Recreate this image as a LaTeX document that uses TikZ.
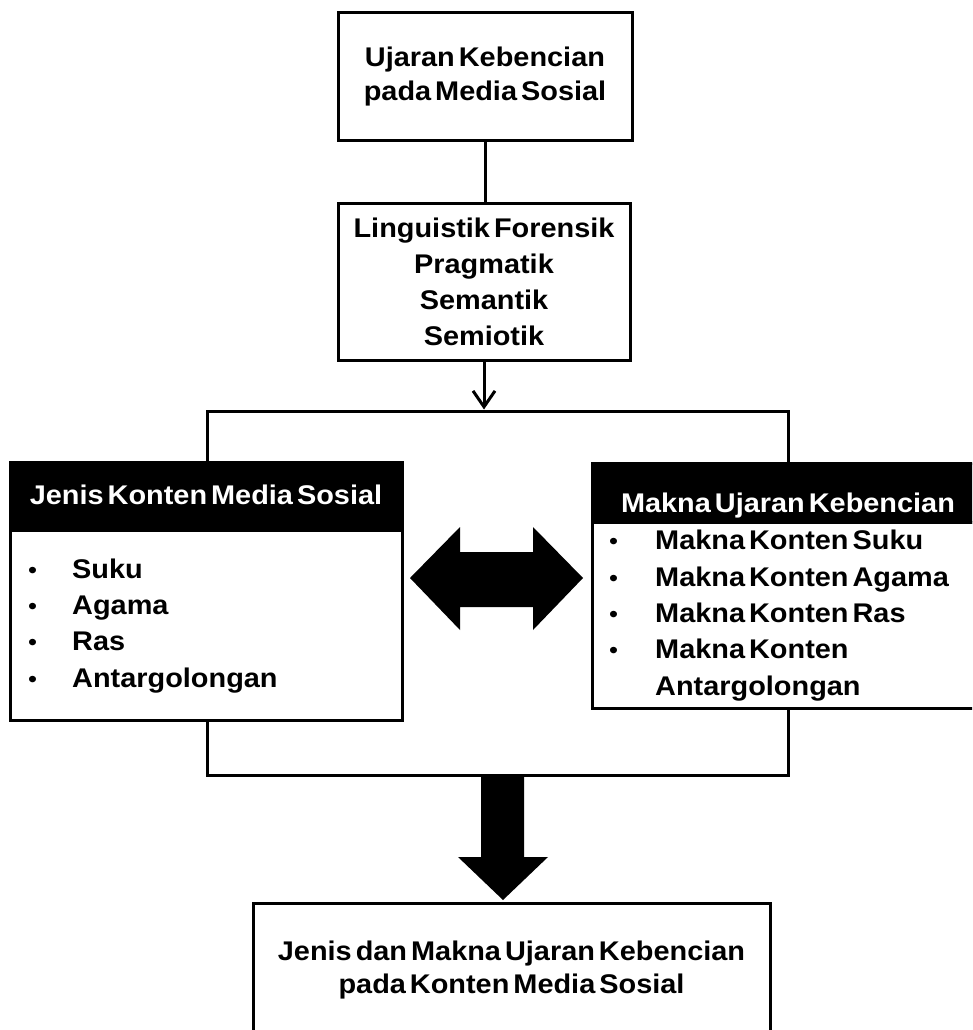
\documentclass[tikz,border=0pt]{standalone}
\usepackage{fontspec}
\setmainfont{Liberation Sans}[FakeStretch=1.07,WordSpace=0.5]
\usetikzlibrary{arrows.meta}
\newcommand{\blt}[1]{\makebox[#1][l]{\mdseries\fontsize{24}{24}\selectfont•}}
\begin{document}
\begin{tikzpicture}[x=1pt,y=-1pt,
  txt/.style={font=\bfseries\fontsize{27}{34}\selectfont},
  box/.style={draw,line width=3pt,fill=white,inner sep=0pt,align=center,txt},
  headbox/.style={draw,line width=3pt,fill=black,inner sep=0pt},
  headtxt/.style={txt,text=white,inner sep=0pt,anchor=base},
  items/.style={inner sep=0pt,anchor=base west,align=left,font=\bfseries\fontsize{27}{36.3}\selectfont},
  conn/.style={line width=3pt}]
\useasboundingbox (0,0) rectangle (972,1030);
\clip (0,0) rectangle (972,1030);
% frame
\node[draw,line width=3pt,inner sep=0pt,minimum width=581pt,minimum height=364pt] (frame) at (497.5,593) {};
% top boxes
\node[box,minimum width=294pt,minimum height=127pt] (top) at (485,76.5) {Ujaran Kebencian\\pada Media Sosial};
\node[box,minimum width=292pt,minimum height=157pt,font=\bfseries\fontsize{27}{36}\selectfont] (mid) at (484,281.5) {Linguistik Forensik\\Pragmatik\\Semantik\\Semiotik};
\draw[conn] (top.south) -- (top.south |- mid.north);
\draw[conn,-{Straight Barb[length=16pt,width=22pt]}] (mid.south) -- (mid.south |- frame.north);
% left box
\node[box,minimum width=392pt,minimum height=190pt] (lbody) at (206,625) {};
\node[headbox,minimum width=392pt,minimum height=68pt] (lhead) at (206,496) {};
\node[headtxt] (lheadt) at (206,504) {Jenis Konten Media Sosial};
\node[items] (litems) at (28,687) {\blt{44pt}Suku\\\blt{44pt}Agama\\\blt{44pt}Ras\\\blt{44pt}Antargolongan};
% right box
\node[box,minimum width=392pt,minimum height=186pt] (rbody) at (788,615) {};
\node[headbox,minimum width=392pt,minimum height=59pt] (rhead) at (788,492.5) {};
\node[headtxt] (rheadt) at (788,512) {Makna Ujaran Kebencian};
\node[items] (ritems) at (609,695) {\blt{46pt}Makna Konten Suku\\\blt{46pt}Makna Konten Agama\\\blt{46pt}Makna Konten Ras\\\blt{46pt}Makna Konten\\\hspace*{46pt}Antargolongan};
% double arrow
\fill (410,578) -- (460,527) -- (460,552) -- (533,552) -- (533,527) -- (583,578) -- (533,630) -- (533,607) -- (460,607) -- (460,630) -- cycle;
% bottom box
\node[box,minimum width=517pt,minimum height=134pt,font=\bfseries\fontsize{27}{33}\selectfont] (bot) at (511.5,970) {Jenis dan Makna Ujaran Kebencian\\pada Konten Media Sosial};
% down arrow
\fill (481,775) -- (481,857) -- (458,857) -- (503,900) -- (548,857) -- (524,857) -- (524,775) -- cycle;
\end{tikzpicture}
\end{document}
